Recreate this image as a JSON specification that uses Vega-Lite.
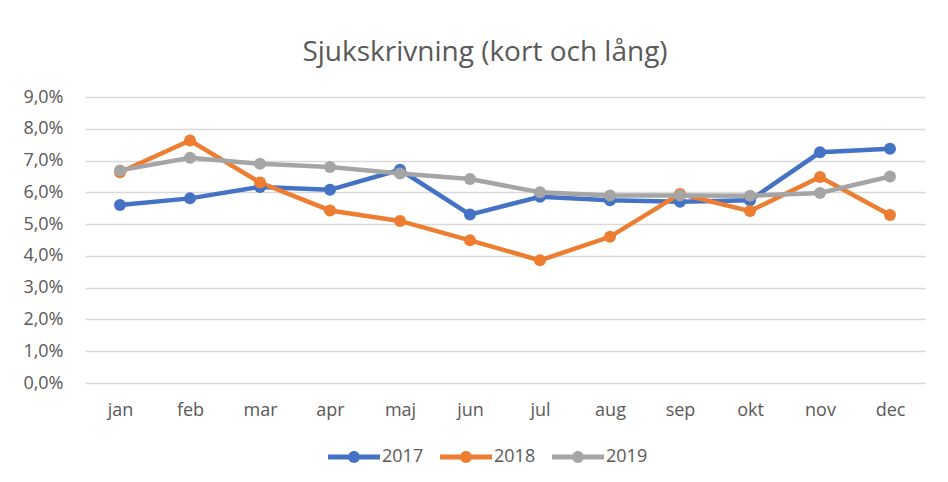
{
  "$schema": "https://vega.github.io/schema/vega-lite/v6.json",
  "width": 840,
  "height": 286,
  "autosize": {"type": "none"},
  "padding": {"left": 85, "top": 97, "right": 23, "bottom": 99},
  "background": "white",
  "title": {
    "text": "Sjukskrivning (kort och lång)",
    "font": "Open Sans",
    "fontSize": 28,
    "fontWeight": "normal",
    "color": "#595959",
    "anchor": "middle",
    "frame": "group",
    "dx": -20,
    "offset": 21
  },
  "data": {
    "values": [
      {"month": "jan", "year": "2017", "value": 0.0560},
      {"month": "feb", "year": "2017", "value": 0.0581},
      {"month": "mar", "year": "2017", "value": 0.0617},
      {"month": "apr", "year": "2017", "value": 0.0608},
      {"month": "maj", "year": "2017", "value": 0.0671},
      {"month": "jun", "year": "2017", "value": 0.0530},
      {"month": "jul", "year": "2017", "value": 0.0586},
      {"month": "aug", "year": "2017", "value": 0.0575},
      {"month": "sep", "year": "2017", "value": 0.0570},
      {"month": "okt", "year": "2017", "value": 0.0575},
      {"month": "nov", "year": "2017", "value": 0.0726},
      {"month": "dec", "year": "2017", "value": 0.0737},
      {"month": "jan", "year": "2018", "value": 0.0663},
      {"month": "feb", "year": "2018", "value": 0.0763},
      {"month": "mar", "year": "2018", "value": 0.0631},
      {"month": "apr", "year": "2018", "value": 0.0543},
      {"month": "maj", "year": "2018", "value": 0.0510},
      {"month": "jun", "year": "2018", "value": 0.0449},
      {"month": "jul", "year": "2018", "value": 0.0386},
      {"month": "aug", "year": "2018", "value": 0.0460},
      {"month": "sep", "year": "2018", "value": 0.0595},
      {"month": "okt", "year": "2018", "value": 0.0541},
      {"month": "nov", "year": "2018", "value": 0.0648},
      {"month": "dec", "year": "2018", "value": 0.0529},
      {"month": "jan", "year": "2019", "value": 0.0669},
      {"month": "feb", "year": "2019", "value": 0.0709},
      {"month": "mar", "year": "2019", "value": 0.0690},
      {"month": "apr", "year": "2019", "value": 0.0680},
      {"month": "maj", "year": "2019", "value": 0.0659},
      {"month": "jun", "year": "2019", "value": 0.0642},
      {"month": "jul", "year": "2019", "value": 0.0600},
      {"month": "aug", "year": "2019", "value": 0.0590},
      {"month": "sep", "year": "2019", "value": 0.0590},
      {"month": "okt", "year": "2019", "value": 0.0589},
      {"month": "nov", "year": "2019", "value": 0.0598},
      {"month": "dec", "year": "2019", "value": 0.0650}
    ]
  },
  "encoding": {
    "x": {
      "field": "month",
      "type": "ordinal",
      "sort": ["jan","feb","mar","apr","maj","jun","jul","aug","sep","okt","nov","dec"],
      "scale": {"type": "point", "padding": 0.5},
      "axis": {
        "title": null,
        "labelAngle": 0,
        "ticks": false,
        "domain": false,
        "grid": false,
        "labelFont": "Open Sans",
        "labelFontSize": 18,
        "labelColor": "#595959",
        "labelPadding": 18
      }
    },
    "y": {
      "field": "value",
      "type": "quantitative",
      "scale": {"domain": [0, 0.09], "nice": false},
      "axis": {
        "title": null,
        "values": [0, 0.01, 0.02, 0.03, 0.04, 0.05, 0.06, 0.07, 0.08, 0.09],
        "labelExpr": "replace(format(datum.value, '.1%'), '.', ',')",
        "ticks": false,
        "domain": false,
        "gridColor": "#D9D9D9",
        "gridWidth": 1.3,
        "labelFont": "Open Sans",
        "labelFontSize": 18,
        "labelColor": "#595959",
        "labelPadding": 22
      }
    },
    "color": {
      "field": "year",
      "type": "nominal",
      "scale": {"domain": ["2017", "2018", "2019"], "range": ["#4472C4", "#ED7D31", "#A5A5A5"]},
      "legend": {
        "title": null,
        "orient": "none",
        "direction": "horizontal",
        "legendX": 243,
        "legendY": 334,
        "symbolType": "M-1,-0.1L1,-0.1L1,0.1L-1,0.1Z M-0.23,0 A0.23,0.23 0 1,1 0.23,0 A0.23,0.23 0 1,1 -0.23,0",
        "symbolSize": 2704,
        "symbolStrokeWidth": 0,
        "labelFont": "Open Sans",
        "labelFontSize": 18,
        "labelColor": "#595959",
        "labelOffset": 2,
        "columnPadding": 16
      }
    }
  },
  "layer": [
    {"mark": {"type": "line", "strokeWidth": 4.5}},
    {"mark": {"type": "point", "filled": true, "size": 144, "opacity": 1}}
  ],
  "config": {"view": {"stroke": null}}
}
